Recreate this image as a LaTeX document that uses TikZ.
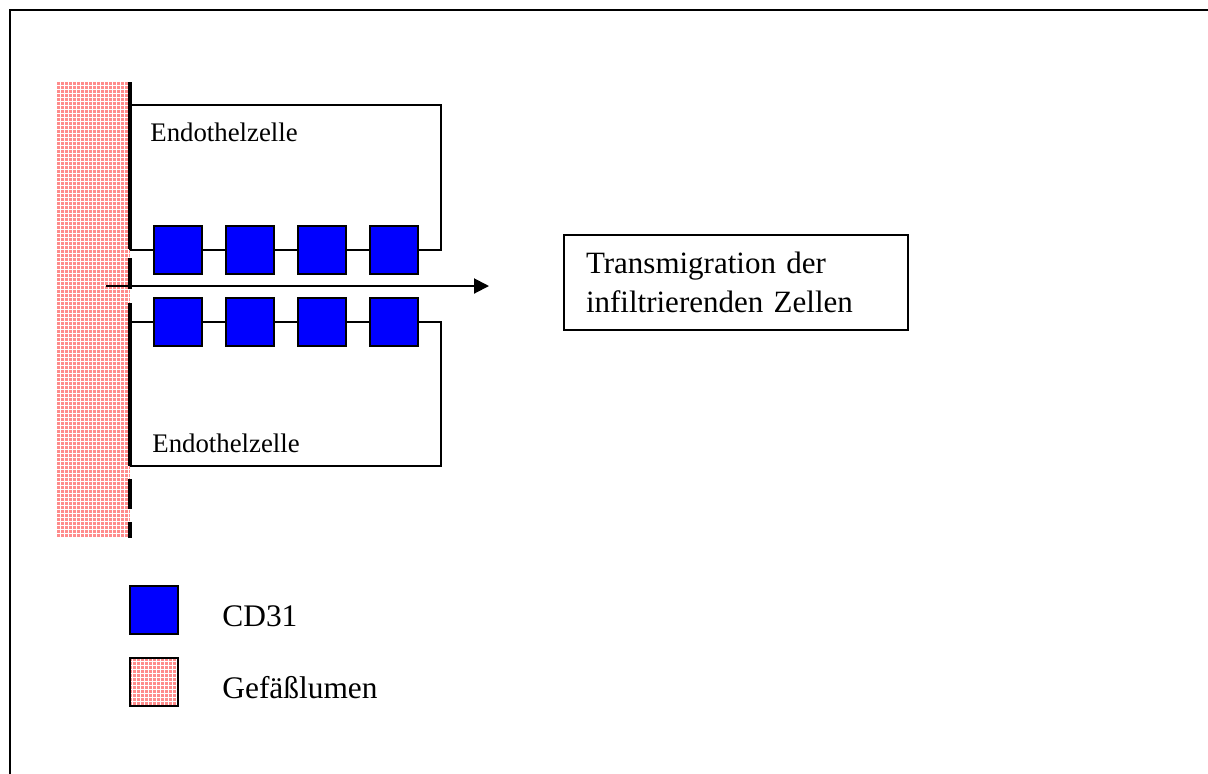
\documentclass[tikz,border=0pt]{standalone}
\usepackage{fontspec}
\setmainfont{Liberation Serif}
\usepackage{xcolor}
\usepackage{tikz}
\usetikzlibrary{arrows.meta, positioning, patterns.meta}
\definecolor{cdblue}{RGB}{0,0,255}
\definecolor{lumenpink}{RGB}{255,140,140}

\begin{document}
\begin{tikzpicture}[
    x=0.5pt, y=-0.5pt,
    >={Triangle[length=7.5pt, width=7.5pt]},
    cd/.style={draw, line width=1.2pt, fill=cdblue, minimum size=24pt, inner sep=0pt},
    cell/.style={draw, line width=1pt},
    membrane/.style={line width=1.8pt},
    lumen/.style={fill=lumenpink,
        postaction={pattern={Lines[distance=2pt, line width=0.4pt]}, pattern color=white},
        postaction={pattern={Lines[angle=90, distance=2pt, line width=0.4pt]}, pattern color=white}},
    lbl/.style={anchor=base west, inner sep=0pt, font=\fontsize{13.4}{16}\selectfont},
    big/.style={anchor=base west, inner sep=0pt, font=\fontsize{15.7}{19}\selectfont},
]
    \useasboundingbox (0,0) rectangle (1208,773);
    \clip (0,0) rectangle (1208,773);
    \draw[line width=1.3pt] (1240,10) -- (10,10) -- (10,800);

    % vessel lumen and cell membrane
    \fill[lumen] (57,82) rectangle (130,538);
    \draw[membrane] (130,82) -- (130,249);
    \draw[membrane] (130,258) -- (130,289);
    \draw[membrane] (130,303) -- (130,466);
    \draw[membrane] (130,479) -- (130,509);
    \draw[membrane] (130,522) -- (130,538);

    % endothelial cells
    \draw[cell] (130,250) -- (130,105) -- (441,105) -- (441,250) -- (130,250);
    \draw[cell] (130,322) -- (441,322) -- (441,466) -- (130,466);
    \node[lbl] (cellup) at (150,141) {Endothelzelle};
    \node[lbl] (celllo) at (152,452) {Endothelzelle};

    \foreach \i in {0,...,3} {
        \node[cd] (up\i) at ({178+72*\i},250) {};
        \node[cd] (lo\i) at ({178+72*\i},322) {};
    }

    % transmigration
    \node[draw, line width=1pt, anchor=north west, minimum width=172pt, minimum height=47.5pt,
          text width=150pt, inner xsep=11pt, align=left, font=\fontsize{15.5}{19.5}\selectfont]
          (trans) at (563,234) {Transmigration der\\infiltrierenden Zellen};
    \coordinate (src) at (106,286);
    \coordinate (tip) at (489,286);
    \draw[->, line width=1pt] (src) -- (tip);

    % legend
    \node[cd] (legcd) at (154,610) {};
    \node[lumen, postaction={draw, line width=1.2pt}, minimum size=24pt, inner sep=0pt] (legpink) at (154,682) {};
    \node[big] (txtcd) at (222,626) {CD31};
    \node[big] (txtpink) at (222,698) {Gefäßlumen};
\end{tikzpicture}
\end{document}
